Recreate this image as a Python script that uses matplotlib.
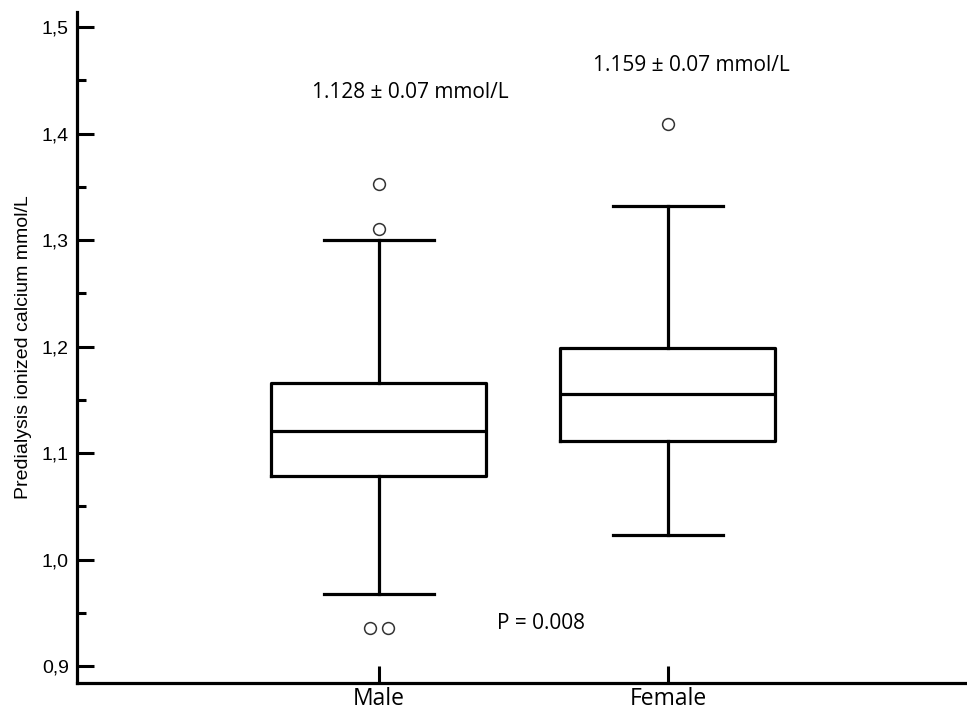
import matplotlib.pyplot as plt
from matplotlib.ticker import MultipleLocator, FuncFormatter

plt.rcParams["font.family"] = ["Liberation Sans", "DejaVu Sans"]

groups = ["Male", "Female"]
q1 = [1.078, 1.111]
medians = [1.121, 1.155]
q3 = [1.166, 1.199]
whisker_low = [0.968, 1.023]
whisker_high = [1.300, 1.332]
outliers = [[1.353, 1.310, 0.936, 0.936], [1.409]]
outlier_offsets = [[0.0, 0.0, -0.03, 0.03], [0.0]]
means = ["1.128 \u00b1 0.07 mmol/L", "1.159 \u00b1 0.07 mmol/L"]
p_text = "P = 0.008"


def build_stats():
    stats = []
    for i, name in enumerate(groups):
        stats.append({
            "label": name,
            "q1": q1[i], "med": medians[i], "q3": q3[i],
            "whislo": whisker_low[i], "whishi": whisker_high[i],
            "fliers": [],
        })
    return stats


fig = plt.figure(figsize=(9.67, 7.18), dpi=100)
ax = fig.add_axes([0.0796, 0.0487, 0.9204, 0.9343])

lw = 2.3
line = dict(color="black", linewidth=lw)
positions = [1, 2]
ax.bxp(build_stats(), positions=positions, widths=0.744,
       boxprops=line, medianprops=line, whiskerprops=line,
       capprops=line, capwidths=0.38, showfliers=False)

# outliers drawn by hand so the two tied low values can sit side by side
for pos, vals, offs in zip(positions, outliers, outlier_offsets):
    ax.plot([pos + o for o in offs], vals, "o", markersize=8.5,
            markerfacecolor="white", markeredgecolor="#333333",
            markeredgewidth=1.1, linestyle="none")

ax.set_xlim(-0.045, 3.035)
ax.set_ylim(0.884, 1.514)

ax.spines["top"].set_visible(False)
ax.spines["right"].set_visible(False)
ax.spines["left"].set_linewidth(lw)
ax.spines["bottom"].set_linewidth(lw)

ax.yaxis.set_major_locator(MultipleLocator(0.1))
ax.yaxis.set_minor_locator(MultipleLocator(0.05))
ax.yaxis.set_major_formatter(FuncFormatter(lambda v, p: f"{v:.1f}".replace(".", ",")))
ax.tick_params(axis="y", which="major", direction="in", length=12, width=2.2,
               labelsize=14, pad=6)
ax.tick_params(axis="y", which="minor", direction="in", length=6.5, width=2.2)

ax.set_xticks(positions)
ax.set_xticklabels(groups, family="Open Sans", fontsize=16.5)
ax.tick_params(axis="x", direction="in", length=12, width=2.2, pad=3)

ax.set_ylabel("Predialysis ionized calcium mmol/L", fontsize=14, labelpad=7)

ax.text(1.11, 1.439, means[0], ha="center", va="center",
        family="Open Sans", fontsize=15)
ax.text(2.08, 1.464, means[1], ha="center", va="center",
        family="Open Sans", fontsize=15)
ax.text(1.56, 0.940, p_text, ha="center", va="center",
        family="Open Sans", fontsize=15)

fig.savefig("out.png", dpi=100)
